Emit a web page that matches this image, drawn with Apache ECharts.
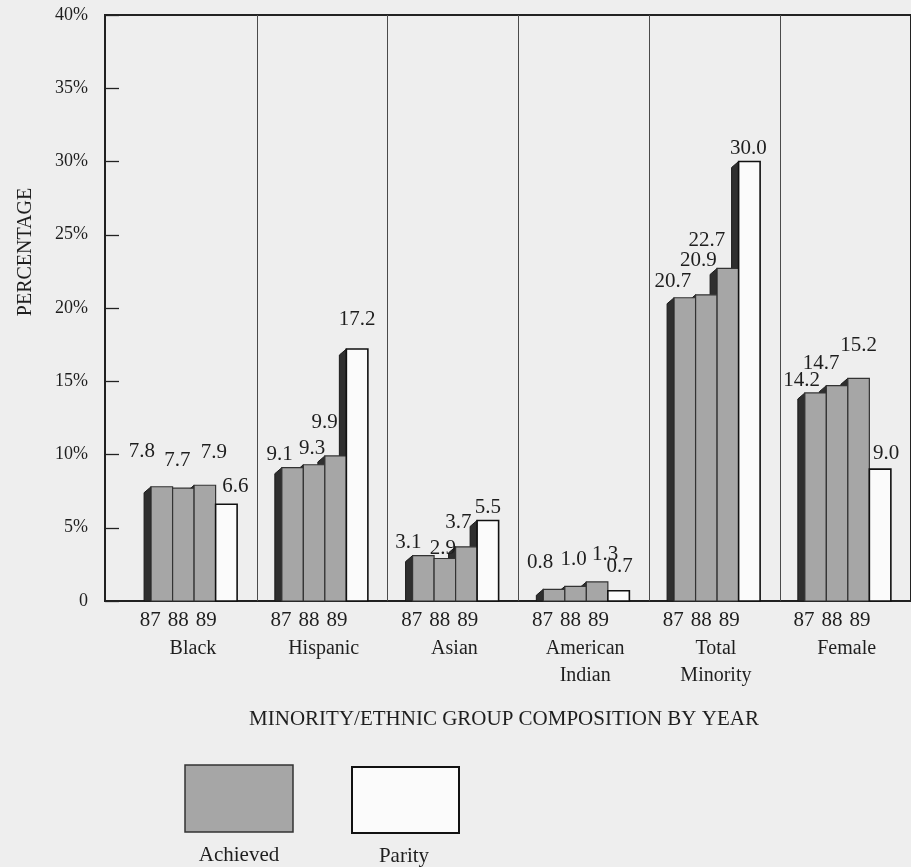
<!DOCTYPE html>
<html>
<head>
<meta charset="utf-8">
<script src="https://cdn.jsdelivr.net/npm/echarts@6/dist/echarts.min.js"></script>
<style>
  html, body { margin: 0; padding: 0; background: #eeeeee; }
  #chart { width: 911px; height: 867px; }
</style>
</head>
<body>
<div id="chart"></div>
<script>
// ---- data ----
const groups = ['Black', 'Hispanic', 'Asian', 'American\nIndian', 'Total\nMinority', 'Female'];
const years = ['87', '88', '89'];
const achieved87 = [7.8, 9.1, 3.1, 0.8, 20.7, 14.2];
const achieved88 = [7.7, 9.3, 2.9, 1.0, 20.9, 14.7];
const achieved89 = [7.9, 9.9, 3.7, 1.3, 22.7, 15.2];
const parity     = [6.6, 17.2, 5.5, 0.7, 30.0, 9.0];
const yTicks = [0, 5, 10, 15, 20, 25, 30, 35, 40];

// ---- layout (group units on the x axis, pixels for the 3-D side) ----
const SLOT_START = 0.19;      // first bar front edge inside a group
const SLOT_W = 0.1645;        // width of one bar front
const YEAR_POS = [0.184, 0.398, 0.612];
const NAME_POS = 0.51;
const DEPTH_X = 7, DEPTH_Y = 6;
// label nudges [dx, dy] in px from the bar-top centre, per group and slot
const labelNudge = [
  [[-20, -35], [-6, -28], [9, -33], [9, -18]],
  [[-13, -13], [-2, -16], [-11, -33], [0, -30]],
  [[-15, -13], [-2, -10], [-8, -24], [0, -13]],
  [[-14, -27], [-2, -27], [8, -27], [1, -24]],
  [[-12, -16], [-8, -34], [-21, -28], [-1, -13]],
  [[-14, -12], [-16, -22], [0, -33], [6, -16]]
];

const FONT = '"Liberation Serif", "Times New Roman", serif';
const GRAY = '#a6a6a6';
const DARK = '#2f2f2f';
const INK = '#1e1e1e';

// one row per bar: [group, slot, value]
const bars = [];
groups.forEach((g, i) => {
  [achieved87[i], achieved88[i], achieved89[i], parity[i]].forEach((v, s) => bars.push([i, s, v]));
});

function leftEdge(g, s) { return g + SLOT_START + s * SLOT_W; }

function renderSide(params, api) {
  const g = api.value(0), s = api.value(1), v = api.value(2);
  const top = api.coord([leftEdge(g, s), v]);
  const base = api.coord([leftEdge(g, s), 0]);
  return {
    type: 'polygon',
    shape: { points: [[top[0], top[1]], [top[0] - DEPTH_X, top[1] + DEPTH_Y], [top[0] - DEPTH_X, base[1]], [top[0], base[1]]] },
    style: { fill: DARK, stroke: '#1a1a1a', lineWidth: 1 }
  };
}

function renderFront(params, api) {
  const g = api.value(0), s = api.value(1), v = api.value(2);
  const p0 = api.coord([leftEdge(g, s), v]);
  const p1 = api.coord([leftEdge(g, s) + SLOT_W, 0]);
  const isParity = s === 3;
  return {
    type: 'rect',
    shape: { x: p0[0], y: p0[1], width: p1[0] - p0[0], height: p1[1] - p0[1] },
    style: { fill: isParity ? '#fbfbfb' : GRAY, stroke: isParity ? '#111' : '#333', lineWidth: isParity ? 1.6 : 1.2 }
  };
}

function renderLabel(params, api) {
  const g = api.value(0), s = api.value(1), v = api.value(2);
  const p = api.coord([leftEdge(g, s) + SLOT_W / 2, v]);
  const n = labelNudge[g][s];
  return {
    type: 'text',
    style: {
      text: v.toFixed(1), x: p[0] + n[0], y: p[1] + n[1],
      align: 'center', verticalAlign: 'middle',
      font: '21px ' + FONT, fill: INK
    }
  };
}

const xMin = -0.1625, xMax = 6.002;
const yearValues = [];
groups.forEach((g, i) => YEAR_POS.forEach(o => yearValues.push(i + o)));
const nameValues = groups.map((g, i) => i + NAME_POS);

const chart = echarts.init(document.getElementById('chart'), null, { renderer: 'canvas' });
chart.setOption({
  backgroundColor: '#eeeeee',
  animation: false,
  grid: { left: 105, right: 0, top: 15, bottom: 266, show: true, borderColor: '#222', borderWidth: 2, backgroundColor: 'transparent' },
  xAxis: [
    {
      type: 'value', min: xMin, max: xMax,
      axisLine: { show: true, onZero: false, lineStyle: { color: '#222', width: 1.5 } },
      axisTick: { show: false }, splitLine: { show: false },
      axisLabel: {
        customValues: yearValues, margin: 9,
        fontFamily: FONT, fontSize: 21, color: INK,
        formatter: function (val) {
          const frac = val - Math.floor(val + 1e-6);
          let k = 0, best = 9;
          YEAR_POS.forEach((o, j) => { if (Math.abs(o - frac) < best) { best = Math.abs(o - frac); k = j; } });
          return years[k];
        }
      }
    },
    {
      type: 'value', min: xMin, max: xMax, position: 'bottom',
      axisLine: { show: false, onZero: false }, axisTick: { show: false }, splitLine: { show: false },
      axisLabel: {
        customValues: nameValues, margin: 34,
        fontFamily: FONT, fontSize: 20, color: INK, lineHeight: 27,
        formatter: function (val) { return groups[Math.floor(val)]; }
      }
    }
  ],
  yAxis: {
    type: 'value', min: yTicks[0], max: yTicks[yTicks.length - 1], interval: 5,
    axisLine: { show: true, onZero: false, lineStyle: { color: '#222', width: 1.5 } },
    axisTick: { show: true, inside: true, length: 14, lineStyle: { color: '#222', width: 1.3 } },
    splitLine: { show: false },
    axisLabel: {
      margin: 17, fontFamily: FONT, fontSize: 18, color: INK,
      formatter: v => (v === 0 ? '0' : v + '%')
    }
  },
  series: [
    {
      type: 'custom', name: 'side', data: bars, renderItem: renderSide, z: 2, silent: true,
      encode: { x: 0, y: 2 }
    },
    {
      type: 'custom', name: 'front', data: bars, renderItem: renderFront, z: 3, silent: true,
      encode: { x: 0, y: 2 },
      markLine: {
        silent: true, symbol: 'none', label: { show: false },
        lineStyle: { color: '#4a4a4a', width: 1, type: 'solid' },
        data: [1, 2, 3, 4, 5].map(v => ({ xAxis: v }))
      }
    },
    {
      type: 'custom', name: 'label', data: bars, renderItem: renderLabel, z: 4, silent: true,
      encode: { x: 0, y: 2 }
    }
  ],
  graphic: [
    {
      type: 'text', x: 26, y: 252, rotation: Math.PI / 2,
      style: { text: 'PERCENTAGE', font: '20px ' + FONT, fill: INK, align: 'center', verticalAlign: 'middle' }
    },
    {
      type: 'text', x: 504, y: 719,
      style: { text: 'MINORITY/ETHNIC GROUP COMPOSITION BY YEAR', font: '21px ' + FONT, fill: INK, align: 'center', verticalAlign: 'middle' }
    },
    { type: 'rect', shape: { x: 185, y: 765, width: 108, height: 67 }, style: { fill: GRAY, stroke: '#333', lineWidth: 1.5 } },
    { type: 'rect', shape: { x: 352, y: 767, width: 107, height: 66 }, style: { fill: '#fbfbfb', stroke: '#111', lineWidth: 2 } },
    { type: 'text', x: 239, y: 855, style: { text: 'Achieved', font: '21px ' + FONT, fill: INK, align: 'center', verticalAlign: 'middle' } },
    { type: 'text', x: 404, y: 856, style: { text: 'Parity', font: '21px ' + FONT, fill: INK, align: 'center', verticalAlign: 'middle' } }
  ]
});
</script>
</body>
</html>
